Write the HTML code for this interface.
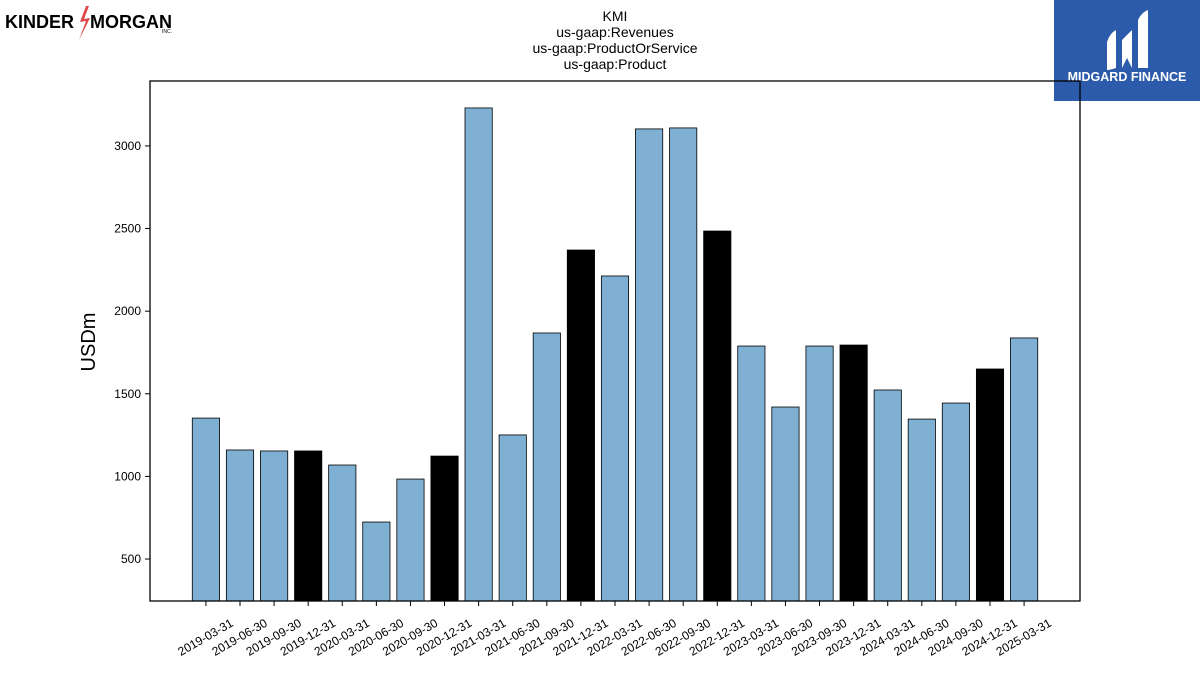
<!DOCTYPE html>
<html><head><meta charset="utf-8"><style>
body{margin:0;background:#fff;width:1200px;height:675px;overflow:hidden;font-family:"Liberation Sans",sans-serif}
</style></head><body>
<svg id="c" width="1200" height="675" xmlns="http://www.w3.org/2000/svg">
<g>
<text x="5" y="28" font-size="18" font-weight="bold" font-family="Liberation Sans, sans-serif" fill="#000">KINDER</text>
<polygon points="86,6 80,22 86,21 79,40 90,18 84,19 89,6" fill="#e0474c"/>
<text x="90" y="28" font-size="18" font-weight="bold" font-family="Liberation Sans, sans-serif" fill="#000">MORGAN</text>
<text x="162" y="33" font-size="5" fill="#000">INC.</text>
</g>
<g>
<rect x="1054" y="0" width="146" height="101" fill="#2c5bab"/>
<path d="M1107,42 Q1110,33 1116,30 L1116,68 Q1110,70 1107,70 Z" fill="#fff"/>
<path d="M1122,40 L1132,30 L1132,68 L1127,58 L1122,68 Z" fill="#fff"/>
<path d="M1138,20 Q1142,12 1148,10 L1148,68 L1138,68 Z" fill="#fff"/>
<text x="1127" y="81" font-size="12.5" font-weight="bold" fill="#fff" text-anchor="middle">MIDGARD FINANCE</text>
</g>
<g font-size="14" text-anchor="middle" fill="#000">
<text x="615" y="21">KMI</text>
<text x="615" y="37">us-gaap:Revenues</text>
<text x="615" y="53">us-gaap:ProductOrService</text>
<text x="615" y="69">us-gaap:Product</text>
</g>
<text x="0" y="0" font-size="20" text-anchor="middle" transform="translate(95,342) rotate(-90)">USDm</text>
<g id="bars"></g>
<g id="axes"></g>
<rect x="150" y="81" width="930" height="520" fill="none" stroke="#000" stroke-width="1.3"/>
</svg>
<script>
const categories=["2019-03-31","2019-06-30","2019-09-30","2019-12-31","2020-03-31","2020-06-30","2020-09-30","2020-12-31","2021-03-31","2021-06-30","2021-09-30","2021-12-31","2022-03-31","2022-06-30","2022-09-30","2022-12-31","2023-03-31","2023-06-30","2023-09-30","2023-12-31","2024-03-31","2024-06-30","2024-09-30","2024-12-31","2025-03-31"];
const values=[1353,1160,1154,1154,1069,724,984,1123,3230,1251,1868,2370,2213,3103,3109,2485,1789,1420,1789,1795,1523,1347,1444,1650,1838];
const yTicks=[500,1000,1500,2000,2500,3000];
const L=150,R=1080,T=81,B=601,yMin=246,yMax=3393;
const n=categories.length,pad=1.64;
const xs=i=>L+(i+pad)/(n-1+2*pad)*(R-L);
const ys=v=>B-(v-yMin)/(yMax-yMin)*(B-T);
const slot=(R-L)/(n-1+2*pad),bw=slot*0.8;
const NS="http://www.w3.org/2000/svg";
const bars=document.getElementById('bars'),axes=document.getElementById('axes');
categories.forEach((c,i)=>{
 const r=document.createElementNS(NS,'rect');
 const y=ys(values[i]);
 r.setAttribute('x',xs(i)-bw/2);r.setAttribute('y',y);r.setAttribute('width',bw);r.setAttribute('height',B-y);
 r.setAttribute('fill',c.endsWith('12-31')?'#000':'#7fb0d4');r.setAttribute('stroke','#000');r.setAttribute('stroke-width','0.8');
 
 
 bars.appendChild(r);
 const t=document.createElementNS(NS,'line');
 t.setAttribute('x1',xs(i));t.setAttribute('x2',xs(i));t.setAttribute('y1',B);t.setAttribute('y2',B+5);t.setAttribute('stroke','#000');
 
 
 axes.appendChild(t);
 const tx=document.createElementNS(NS,'text');
 tx.setAttribute('x',0);tx.setAttribute('y',0);tx.setAttribute('font-size','12');tx.setAttribute('text-anchor','middle');tx.setAttribute('dominant-baseline','middle');
 tx.setAttribute('transform','translate('+xs(i)+',638) rotate(-30)');
 tx.textContent=c;
 
 
 axes.appendChild(tx);
});
yTicks.forEach(v=>{
 const t=document.createElementNS(NS,'line');
 t.setAttribute('x1',L-5);t.setAttribute('x2',L);t.setAttribute('y1',ys(v));t.setAttribute('y2',ys(v));t.setAttribute('stroke','#000');
 
 
 axes.appendChild(t);
 const tx=document.createElementNS(NS,'text');
 tx.setAttribute('x',L-9);tx.setAttribute('y',ys(v)+4);tx.setAttribute('font-size','12');tx.setAttribute('text-anchor','end');
 tx.textContent=v;
 
 
 axes.appendChild(tx);
});
</script>
</body></html>
